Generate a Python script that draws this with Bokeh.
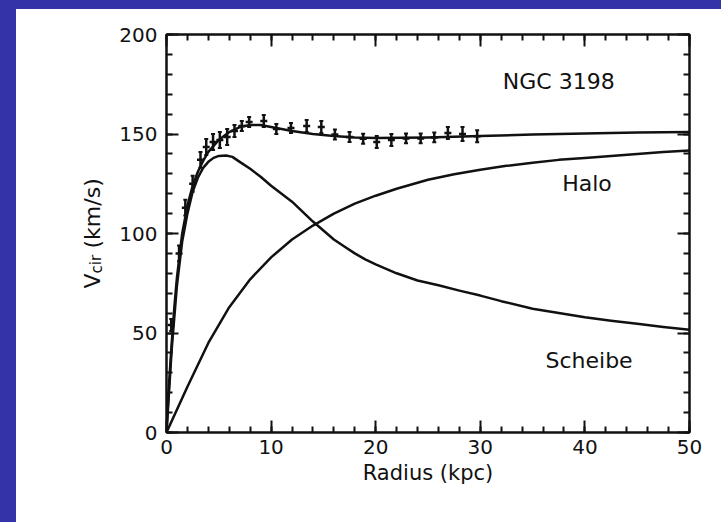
from bokeh.plotting import figure
from bokeh.models import (LinearAxis, FixedTicker, Label, ColumnDataSource,
                          Whisker, TeeHead, Range1d)
from bokeh.layouts import column, row
from bokeh.embed import file_html
from bokeh.resources import INLINE

# ---- data ----
obs_r = [0.45, 1.2, 1.8, 2.5, 3.25, 3.8, 4.45, 5.1, 5.8, 6.5, 7.2, 7.9, 9.3,
         10.5, 11.9, 13.4, 14.8, 16.1, 17.5, 18.8, 20.1, 21.5, 22.9, 24.3,
         25.6, 26.9, 28.3, 29.7]
obs_v = [54, 90, 113, 125, 137, 143.5, 146, 147, 148.5, 151.5, 154, 156, 156.5,
         152.5, 153, 154, 153.5, 149.7, 148.5, 147.6, 146, 147, 147.8, 147.8,
         148.3, 150.5, 150, 148.9]
obs_err = [3, 4, 4, 4, 4, 4, 4, 4, 4, 3, 2.5, 2.5, 3,
           2.5, 2.5, 3, 3, 2.5, 2.5, 2.5, 3, 3, 2.5, 2.5,
           2.5, 3, 3.5, 3]

total_r = [0, 0.25, 0.5, 0.75, 1, 1.5, 2, 2.5, 3, 3.5, 4, 5, 6, 7, 8, 9, 10,
           11, 12, 13, 14, 16, 18, 20, 22.5, 25, 30, 35, 40, 45, 50]
total_v = [0, 25, 45, 63, 78, 100, 114, 124, 131, 136.5, 141, 147, 151, 153.5,
           154.5, 154.5, 153.5, 152.5, 151.5, 150.7, 150, 149, 148.2, 148,
           148.1, 148.3, 149, 149.7, 150.3, 150.7, 151]

disk_r = [0, 0.5, 1, 1.5, 2, 2.5, 3, 3.5, 4, 4.5, 5, 5.7, 6.3, 7, 8, 9, 10, 11,
          12, 13, 14, 15, 16, 17, 18, 19, 20, 22, 24, 26, 28, 30, 32, 35, 37.5,
          40, 42.5, 45, 47.5, 50]
disk_v = [0, 42, 74, 96, 110, 121, 128, 133, 136, 138, 139, 139.2, 138.5, 136,
          132.5, 128.5, 124, 120, 116, 111, 106, 101.5, 97, 93.5, 90, 87, 84.5,
          80, 76.4, 74, 71.3, 68.8, 66, 62.2, 60, 57.9, 56.2, 54.6, 53, 51.6]

halo_r = [0, 2, 4, 6, 8, 10, 12, 14, 16, 18, 20, 22, 25, 27.5, 30, 32.5, 35,
          37.5, 40, 42.5, 45, 47.5, 50]
halo_v = [0, 23, 45, 63, 77, 88, 97, 104, 110, 115, 119, 122.5, 127, 129.8,
          132, 134, 135.5, 137, 138, 139, 140, 141, 141.7]

x_ticks = [0, 10, 20, 30, 40, 50]
y_ticks = [0, 50, 100, 150, 200]
x_minor = [v for v in range(0, 51, 2)]
y_minor = [v for v in range(0, 201, 10)]

FONT = "DejaVu Sans"
BLUE = "#3434a8"
INK = "#111111"

p = figure(width=605, height=513, x_range=Range1d(0, 50), y_range=Range1d(0, 200),
           output_backend="svg", toolbar_location=None,
           min_border_left=49, min_border_right=32, min_border_top=25,
           min_border_bottom=90, margin=0,
           background_fill_color="white", border_fill_color="white")
p.grid.visible = False
p.outline_line_color = INK
p.outline_line_width = 2

def style_axis(ax, ticks, minor):
    ax.ticker = FixedTicker(ticks=ticks, minor_ticks=minor)
    ax.axis_line_color = INK
    ax.axis_line_width = 2
    ax.major_tick_line_color = INK
    ax.major_tick_line_width = 2
    ax.minor_tick_line_color = INK
    ax.minor_tick_line_width = 2
    ax.major_tick_in = 12
    ax.major_tick_out = 0
    ax.minor_tick_in = 6
    ax.minor_tick_out = 0
    ax.major_label_text_font = FONT
    ax.major_label_text_font_size = "20px"
    ax.major_label_text_color = INK

style_axis(p.xaxis[0], x_ticks, x_minor)
style_axis(p.yaxis[0], y_ticks, y_minor)
p.xaxis[0].major_label_standoff = 7
p.yaxis[0].major_label_standoff = 9
p.xaxis[0].axis_label = "Radius (kpc)"
p.xaxis[0].axis_label_text_font = FONT
p.xaxis[0].axis_label_text_font_size = "21px"
p.xaxis[0].axis_label_text_font_style = "normal"
p.xaxis[0].axis_label_text_color = INK
p.xaxis[0].axis_label_standoff = 4

top = LinearAxis()
right = LinearAxis()
style_axis(top, x_ticks, x_minor)
style_axis(right, y_ticks, y_minor)
for ax in (top, right):
    ax.major_label_text_font_size = "1px"
    ax.major_label_text_color = None
    ax.major_label_standoff = 0
p.add_layout(top, "above")
p.add_layout(right, "right")

# curves
p.line(total_r, total_v, line_color=INK, line_width=2.5, line_join="round")
p.line(disk_r, disk_v, line_color=INK, line_width=2.5, line_join="round")
p.line(halo_r, halo_v, line_color=INK, line_width=2.5, line_join="round")

# observations with error bars
src = ColumnDataSource(dict(r=obs_r, v=obs_v,
                            lo=[v - e for v, e in zip(obs_v, obs_err)],
                            hi=[v + e for v, e in zip(obs_v, obs_err)]))
wh = Whisker(source=src, base="r", lower="lo", upper="hi",
             line_color=INK, line_width=2.5,
             upper_head=TeeHead(size=4, line_color=INK, line_width=2),
             lower_head=TeeHead(size=4, line_color=INK, line_width=2))
p.add_layout(wh)
p.scatter("r", "v", source=src, marker="dash", size=7, line_color=INK,
          line_width=2.5)

# annotations
for txt, x, y in [("NGC 3198", 37.5, 176.4), ("Halo", 40.2, 125.1),
                  ("Scheibe", 40.4, 36.4)]:
    p.add_layout(Label(x=x, y=y, text=txt, text_font=FONT, text_font_size="22px",
                       text_align="center", text_baseline="middle",
                       text_color=INK))

# narrow side figure holding the rotated y-axis title  V_cir (km/s)
lab = figure(width=100, height=513, x_range=Range1d(0, 100),
             y_range=Range1d(0, 398), output_backend="svg",
             toolbar_location=None, x_axis_location=None, y_axis_location=None,
             min_border_left=0, min_border_right=0, min_border_top=25,
             min_border_bottom=90, margin=0, outline_line_color=None,
             background_fill_color=None, border_fill_color="white")
lab.grid.visible = False
lx, ly = 76, 144
lab.add_layout(Label(x=lx, y=ly, text="V", angle=1.5708, text_font=FONT,
                     text_font_size="22px", text_align="left",
                     text_baseline="middle", text_color=INK))
lab.add_layout(Label(x=lx + 4, y=ly + 15, text="cir", angle=1.5708,
                     text_font=FONT, text_font_size="15px", text_align="left",
                     text_baseline="middle", text_color=INK))
lab.add_layout(Label(x=lx, y=ly + 40, text="(km/s)", angle=1.5708,
                     text_font=FONT, text_font_size="22px", text_align="left",
                     text_baseline="middle", text_color=INK))

inner = row(lab, p, width=705, height=513, margin=(9, 0, 0, 16),
            styles={"background-color": "white"})
layout = column(inner, width=721, height=522, margin=0,
                styles={"background-color": BLUE})

open("out.html", "w").write(file_html(layout, INLINE))
